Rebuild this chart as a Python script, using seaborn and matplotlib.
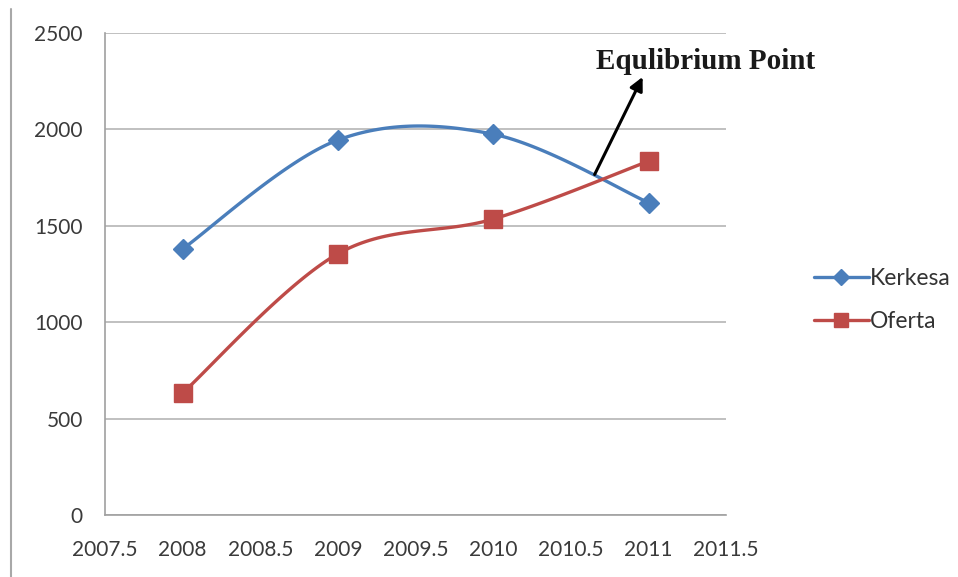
import numpy as np
import pandas as pd
import matplotlib
matplotlib.use('Agg')
import matplotlib.pyplot as plt
from matplotlib.lines import Line2D
import seaborn as sns

# Vertes nga grafiku
vitet = [2008, 2009, 2010, 2011]
kerkesa = [1380, 1945, 1975, 1620]
oferta = [633, 1355, 1535, 1835]
x_ticks = [2007.5, 2008, 2008.5, 2009, 2009.5, 2010, 2010.5, 2011, 2011.5]
y_ticks = [0, 500, 1000, 1500, 2000, 2500]

ngjyra_kerkesa = '#4A7EBB'
ngjyra_oferta = '#BE4B48'


def lemuar(x, y, hapa=40):
    # kurbe e lemuar (Catmull-Rom) si ne Excel
    x = np.asarray(x, float)
    y = np.asarray(y, float)
    px = np.concatenate([[x[0]], x, [x[-1]]])
    py = np.concatenate([[y[0]], y, [y[-1]]])
    xs, ys = [], []
    for i in range(1, len(px) - 2):
        t = np.linspace(0, 1, hapa)
        for p, out in ((px, xs), (py, ys)):
            p0, p1, p2, p3 = p[i - 1], p[i], p[i + 1], p[i + 2]
            out.extend(0.5 * ((2 * p1) + (-p0 + p2) * t +
                              (2 * p0 - 5 * p1 + 4 * p2 - p3) * t ** 2 +
                              (-p0 + 3 * p1 - 3 * p2 + p3) * t ** 3))
    return np.array(xs), np.array(ys)


sns.set_style('white')
plt.rcParams['font.family'] = ['Lato', 'DejaVu Sans']

fig = plt.figure(figsize=(9.58, 5.77), dpi=100)
ax = fig.add_axes([0.1096, 0.1075, 0.758 - 0.1096, 0.9428 - 0.1075])

for vlerat, ngjyra, marker, ms in ((kerkesa, ngjyra_kerkesa, 'D', 10),
                                   (oferta, ngjyra_oferta, 's', 13)):
    kx, ky = lemuar(vitet, vlerat)
    sns.lineplot(x=kx, y=ky, sort=False, color=ngjyra, linewidth=2.4, ax=ax)
    ax.plot(vitet, vlerat, linestyle='none', marker=marker, markersize=ms,
            color=ngjyra, zorder=5)

ax.set_xlim(2007.5, 2011.5)
ax.set_ylim(0, 2500)
ax.set_xticks(x_ticks)
ax.set_xticklabels([f'{v:g}' for v in x_ticks])
ax.set_yticks(y_ticks)
ax.yaxis.grid(True, color='#b5b5b5', linewidth=1.2)
ax.xaxis.grid(False)
for s in ['top', 'right']:
    ax.spines[s].set_visible(False)
for s in ['left', 'bottom']:
    ax.spines[s].set_color('#a0a0a0')
    ax.spines[s].set_linewidth(1.2)
ax.tick_params(axis='both', direction='out', length=6, width=1.2, color='#a0a0a0',
               labelsize=15, labelcolor='#3a3a3a')
ax.tick_params(axis='x', pad=12)
ax.tick_params(axis='y', pad=10)
ax.set_xlabel('')
ax.set_ylabel('')

ax.annotate('', xy=(2010.97, 2285), xytext=(2010.645, 1753),
            arrowprops=dict(arrowstyle='-|>', color='black', lw=2.2, mutation_scale=20))
ax.text(2010.66, 2350, 'Equlibrium Point', family='Liberation Serif', fontweight='bold',
        fontsize=21, va='center', ha='left', color='#1a1a1a')

handles = [Line2D([], [], color=ngjyra_kerkesa, marker='D', markersize=8, linewidth=2.4),
           Line2D([], [], color=ngjyra_oferta, marker='s', markersize=10, linewidth=2.4)]
fig.legend(handles, ['Kerkesa', 'Oferta'], loc='center left', bbox_to_anchor=(0.828, 0.48),
           frameon=False, fontsize=16.5, handlelength=2.4, handletextpad=0.05,
           labelspacing=1.0, labelcolor='#333333')

# vija e kornizes ne te majte
fig.add_artist(Line2D([0.011, 0.011], [0.0, 0.985], color='#a8a8a8', linewidth=1.5))

fig.savefig('out.png', dpi=100)
